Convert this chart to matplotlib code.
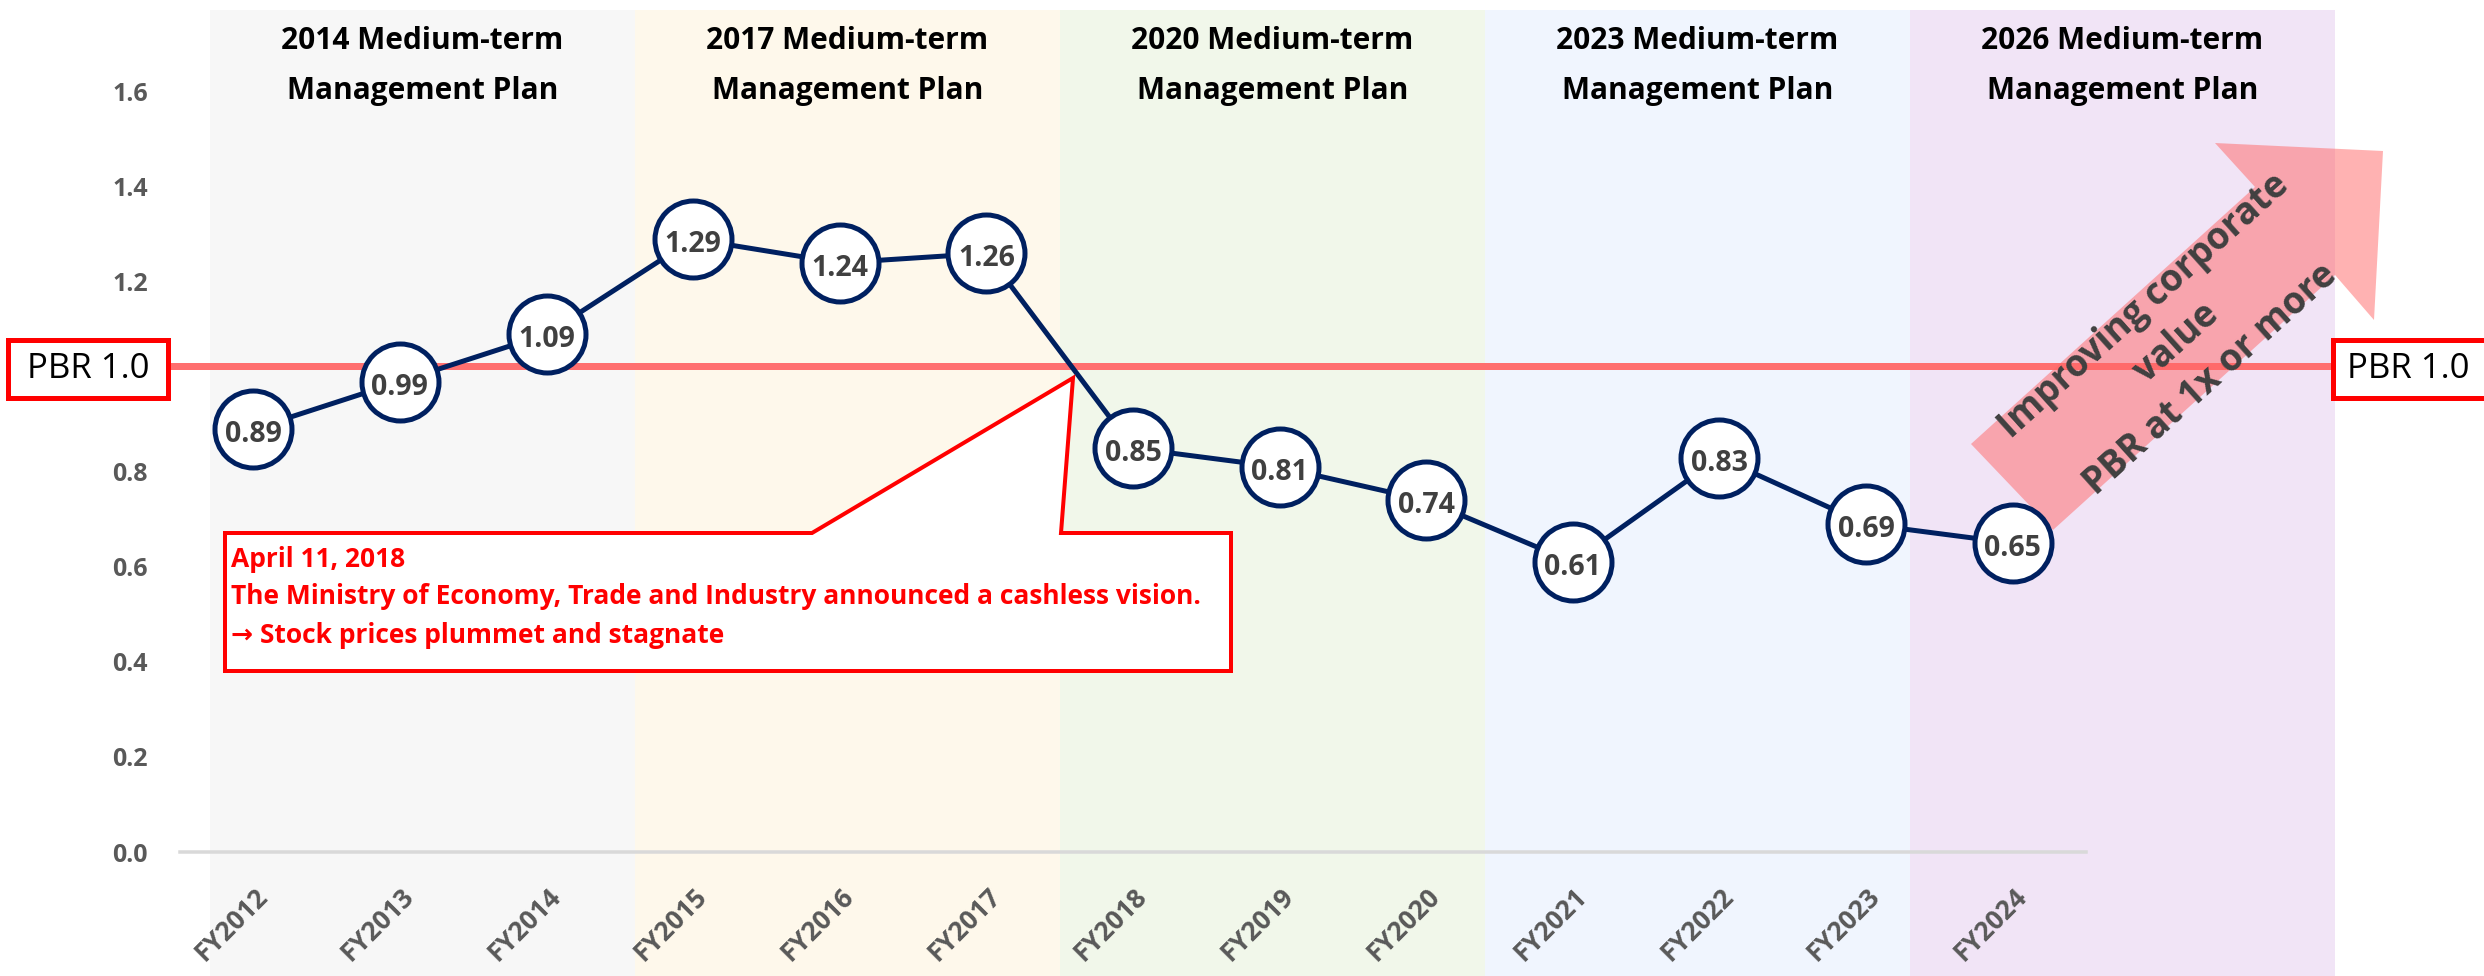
import matplotlib
matplotlib.use("Agg")
import matplotlib.pyplot as plt
from matplotlib.patches import Rectangle, Polygon
from matplotlib.lines import Line2D
from matplotlib.transforms import ScaledTranslation, blended_transform_factory, Affine2D

# ---------------- data ----------------
years = ["FY2012", "FY2013", "FY2014", "FY2015", "FY2016", "FY2017", "FY2018",
         "FY2019", "FY2020", "FY2021", "FY2022", "FY2023", "FY2024"]
pbr = [0.89, 0.99, 1.09, 1.29, 1.24, 1.26, 0.85, 0.81, 0.74, 0.61, 0.83, 0.69, 0.65]
y_ticks = [0.0, 0.2, 0.4, 0.6, 0.8, 1.0, 1.2, 1.4, 1.6]
plan_line1 = ["2014 Medium-term", "2017 Medium-term", "2020 Medium-term",
              "2023 Medium-term", "2026 Medium-term"]
plan_line2 = ["Management Plan"] * 5
band_colors = ["#F7F7F7", "#FEF8EB", "#F1F7EA", "#F0F5FE", "#F1E4F6"]
pbr_ref = 1.0
pbr_label = "PBR 1.0"
callout_lines = ["April 11, 2018",
                 "The Ministry of Economy, Trade and Industry announced a cashless vision.",
                 "\u2192 Stock prices plummet and stagnate"]
arrow_text = "Improving corporate\nvalue\nPBR at 1x or more"

# ---------------- styling ----------------
plt.rcParams["font.family"] = ["Open Sans", "DejaVu Sans"]
NAVY = "#002060"
GRAY_TXT = "#595959"
VAL_TXT = "#404040"
RED = "#FF0000"
PBR_LINE = "#FF6F6F"

W, H = 2484, 976
DPI = 100
fig = plt.figure(figsize=(W / DPI, H / DPI), dpi=DPI)
fig.patch.set_facecolor("white")


def fx(px):
    return px / W


def fy(py):
    return 1 - py / H


def pt(px):
    return px * 72 / DPI


# pixel -> figure transform (origin top-left, y down)
pix_tf = Affine2D().scale(1.0 / W, -1.0 / H).translate(0, 1) + fig.transFigure

# ---------------- axes ----------------
ax_l, ax_r, ax_t, ax_b = 180, 2086, 11, 852
y_top = 1.77
ax = fig.add_axes([fx(ax_l), fy(ax_b), fx(ax_r) - fx(ax_l), fy(ax_t) - fy(ax_b)])
ax.set_facecolor("none")
ax.set_xlim(-0.5, len(years) - 0.5)
ax.set_ylim(0, y_top)
px_per_unit = (ax_b - ax_t) / y_top
for s in ["left", "right", "top"]:
    ax.spines[s].set_visible(False)
ax.spines["bottom"].set_color("#D9D9D9")
ax.spines["bottom"].set_linewidth(pt(3.5))

ax.set_yticks(y_ticks)
# the 1.0 label is hidden behind the "PBR 1.0" box in the original
ax.set_yticklabels(["" if abs(v - pbr_ref) < 1e-9 else f"{v:.1f}" for v in y_ticks],
                   fontsize=18, fontweight="bold", color=GRAY_TXT)
ax.tick_params(axis="y", length=0, pad=pt(32))

xs = list(range(len(years)))
ax.set_xticks(xs)
ax.set_xticklabels(years, rotation=45, ha="right", va="center", rotation_mode="anchor",
                   fontsize=19, fontweight="bold", color=GRAY_TXT)
ax.tick_params(axis="x", length=0, pad=pt(40))
for lbl in ax.get_xticklabels():
    lbl.set_transform(lbl.get_transform() + ScaledTranslation(10 / DPI, 0, fig.dpi_scale_trans))

# ---------------- plan bands ----------------
band_x0, band_w, band_top = 210, 425, 10
for i, c in enumerate(band_colors):
    fig.add_artist(Rectangle((fx(band_x0 + i * band_w), 0), band_w / W, fy(band_top),
                             transform=fig.transFigure, facecolor=c, edgecolor="none",
                             zorder=-5))
    cx = fx(band_x0 + i * band_w + band_w / 2)
    fig.text(cx, fy(49), plan_line1[i], ha="center", va="baseline", fontsize=21.5,
             fontweight="bold", color="black", zorder=-4)
    fig.text(cx, fy(99), plan_line2[i], ha="center", va="baseline", fontsize=21.5,
             fontweight="bold", color="black", zorder=-4)

# ---------------- PBR 1.0 reference line and boxes ----------------
up = ScaledTranslation(0, 11 / DPI, fig.dpi_scale_trans)
btf = blended_transform_factory(fig.transFigure, ax.transData) + up
ax.add_line(Line2D([fx(168), fx(2333)], [pbr_ref, pbr_ref], transform=btf,
                   color=PBR_LINE, linewidth=pt(7), zorder=1, clip_on=False))

box_h = 58 / px_per_unit
for (x0, x1, tx, ha) in [(8, 168, 88, "center"), (2333, 2560, 2347, "left")]:
    fig.add_artist(Rectangle((fx(x0), pbr_ref - box_h / 2 - 3 / px_per_unit),
                             (x1 - x0) / W, box_h, transform=btf, facecolor="white",
                             edgecolor=RED, linewidth=pt(5), zorder=3))
    fig.text(fx(tx), pbr_ref - 3 / px_per_unit, pbr_label, transform=btf, ha=ha,
             va="center", fontsize=25, color="black", zorder=4)

# ---------------- data line with circle markers ----------------
ax.plot(xs, pbr, color=NAVY, linewidth=pt(5), zorder=3, clip_on=False)
ax.plot(xs, pbr, linestyle="none", marker="o", markersize=pt(77),
        markerfacecolor="white", markeredgecolor=NAVY, markeredgewidth=pt(5),
        zorder=4, clip_on=False)
down = ScaledTranslation(0, -13 / DPI, fig.dpi_scale_trans)
for x, v in zip(xs, pbr):
    ax.text(x, v, f"{v:.2f}", ha="center", va="baseline", fontsize=20.5,
            fontweight="bold", color=VAL_TXT, zorder=5,
            transform=ax.transData + down)

# ---------------- big translucent arrow ----------------
arrow_pts = [(1971, 444), (2255, 187), (2215, 143), (2383, 151), (2374, 320),
             (2335, 275), (2053, 530)]
ax.add_patch(Polygon(arrow_pts, closed=True, transform=pix_tf, facecolor="#FF6666",
                     alpha=0.5, edgecolor="none", zorder=2, clip_on=False))
ax.text(2177, 343, arrow_text, transform=pix_tf, rotation=42, rotation_mode="anchor",
        ha="center", va="center", multialignment="center", fontsize=26.5,
        fontweight="bold", color=VAL_TXT, linespacing=1.4, zorder=2.5, clip_on=False)

# ---------------- callout ----------------
callout = [(225, 533), (812, 533), (1073, 378), (1061, 533), (1231, 533), (1231, 671),
           (225, 671)]
ax.add_patch(Polygon(callout, closed=True, transform=pix_tf, facecolor="white",
                     edgecolor=RED, linewidth=pt(4), zorder=6, clip_on=False,
                     joinstyle="miter"))
for line, base in zip(callout_lines, [567, 604, 643]):
    ax.text(231, base, line, transform=pix_tf, ha="left", va="baseline", fontsize=19,
            fontweight="bold", color=RED, zorder=7, clip_on=False)

fig.savefig("out.png", dpi=DPI, facecolor="white")
